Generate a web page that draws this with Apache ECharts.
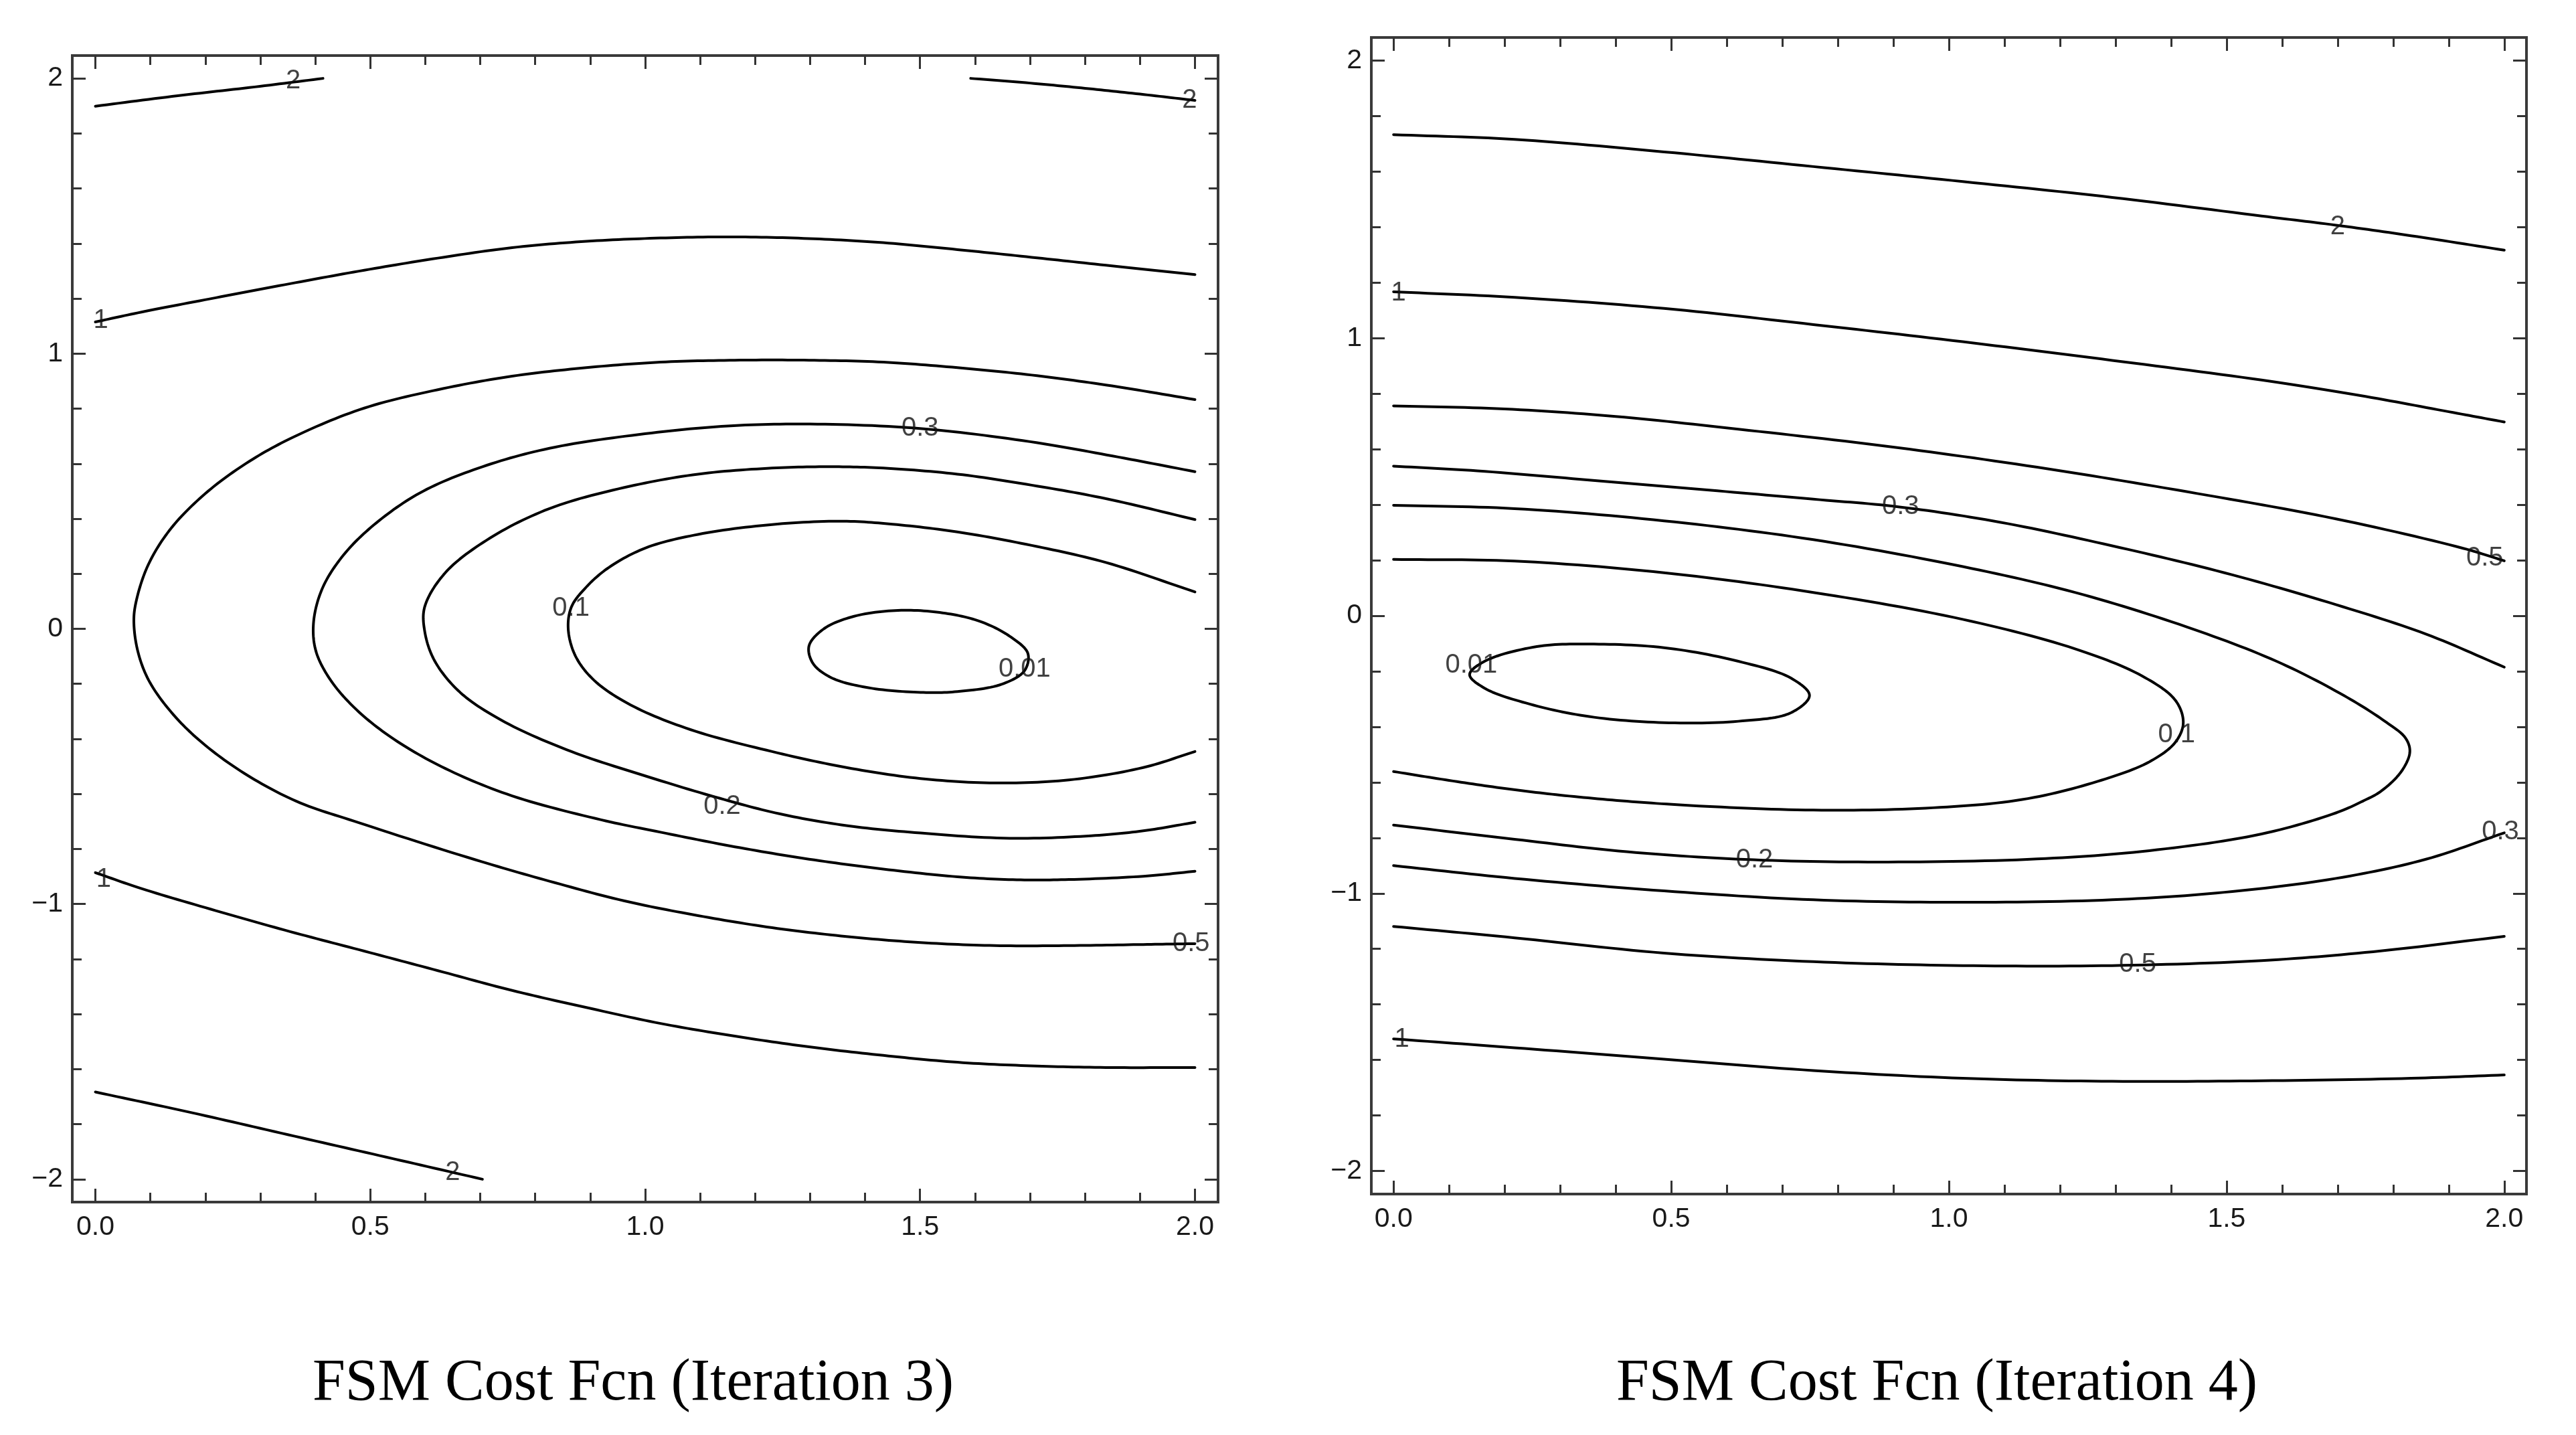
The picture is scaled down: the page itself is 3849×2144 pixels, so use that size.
<!DOCTYPE html>
<html>
<head>
<meta charset="utf-8">
<script src="https://cdn.jsdelivr.net/npm/echarts@6/dist/echarts.min.js"></script>
<style>
html,body{margin:0;padding:0;background:#fff;}
#chart{width:3849px;height:2144px;}
</style>
</head>
<body>
<div id="chart"></div>
<script>
// ---------- tick labels / tick positions ----------
const xMajorTicks = [0, 0.5, 1, 1.5, 2];
const xMinorTicks = [0.1, 0.2, 0.3, 0.4, 0.6, 0.7, 0.8, 0.9, 1.1, 1.2, 1.3, 1.4, 1.6, 1.7, 1.8, 1.9];
const yMajorTicks = [-2, -1, 0, 1, 2];
const yMinorTicks = [-1.8, -1.6, -1.4, -1.2, -0.8, -0.6, -0.4, -0.2, 0.2, 0.4, 0.6, 0.8, 1.2, 1.4, 1.6, 1.8];
const titles = ['FSM Cost Fcn (Iteration 3)', 'FSM Cost Fcn (Iteration 4)'];

// ---------- Iteration 3 contours (x, y) ----------
const it3_c2_topLeft = [[0,1.899],[0.15,1.937],[0.29,1.969],[0.414,2.0]];
const it3_c2_topRight = [[1.592,2.0],[1.7,1.983],[1.8,1.964],[1.9,1.943],[2.0,1.92]];
const it3_c1_upper = [[0,1.115],[0.084,1.151],[0.219,1.203],[0.354,1.254],[0.489,1.303],[0.623,1.347],[0.758,1.385],[0.893,1.408],[1.028,1.420],[1.163,1.424],[1.298,1.418],[1.433,1.403],[1.568,1.378],[1.703,1.350],[1.838,1.321],[2.0,1.287]];
const it3_c05 = [[2.0,0.833],[1.838,0.886],[1.703,0.922],[1.568,0.949],[1.433,0.969],[1.298,0.976],[1.163,0.976],[1.028,0.969],[0.893,0.949],[0.758,0.918],[0.623,0.869],[0.489,0.802],[0.37,0.706],[0.286,0.616],[0.205,0.500],[0.138,0.366],[0.096,0.232],[0.074,0.098],[0.070,0.027],[0.077,-0.080],[0.097,-0.187],[0.138,-0.303],[0.192,-0.410],[0.270,-0.524],[0.365,-0.626],[0.48,-0.705],[0.691,-0.839],[0.826,-0.917],[0.961,-0.988],[1.096,-1.042],[1.231,-1.086],[1.366,-1.118],[1.501,-1.140],[1.636,-1.151],[1.771,-1.151],[1.906,-1.147],[2.0,-1.144]];
const it3_c03 = [[2.0,0.571],[1.85,0.628],[1.7,0.68],[1.5,0.728],[1.3,0.744],[1.15,0.737],[0.988,0.706],[0.826,0.656],[0.704,0.589],[0.596,0.500],[0.516,0.393],[0.455,0.277],[0.414,0.152],[0.397,0.027],[0.401,-0.080],[0.428,-0.187],[0.475,-0.294],[0.543,-0.401],[0.637,-0.508],[0.758,-0.607],[0.920,-0.694],[1.028,-0.739],[1.163,-0.792],[1.298,-0.837],[1.433,-0.873],[1.568,-0.901],[1.676,-0.912],[1.771,-0.911],[1.906,-0.899],[2.0,-0.881]];
const it3_c02 = [[2.0,0.397],[1.838,0.473],[1.703,0.522],[1.568,0.562],[1.433,0.584],[1.339,0.589],[1.231,0.584],[1.096,0.562],[0.961,0.513],[0.826,0.437],[0.718,0.330],[0.637,0.205],[0.599,0.080],[0.599,-0.009],[0.617,-0.116],[0.664,-0.232],[0.745,-0.339],[0.866,-0.446],[1.001,-0.535],[1.136,-0.616],[1.244,-0.672],[1.366,-0.715],[1.501,-0.742],[1.663,-0.761],[1.811,-0.752],[1.906,-0.734],[2.0,-0.703]];
const it3_c01 = [[2.0,0.134],[1.838,0.241],[1.703,0.303],[1.568,0.352],[1.45,0.38],[1.36,0.391],[1.231,0.379],[1.096,0.343],[1.001,0.294],[0.934,0.223],[0.893,0.152],[0.866,0.080],[0.860,0.0],[0.873,-0.098],[0.907,-0.187],[0.974,-0.277],[1.082,-0.366],[1.231,-0.446],[1.366,-0.504],[1.501,-0.544],[1.636,-0.560],[1.771,-0.549],[1.906,-0.504],[2.0,-0.446]];
const it3_c001 = [[1.696,-0.089],[1.690,-0.152],[1.649,-0.201],[1.568,-0.228],[1.501,-0.231],[1.406,-0.214],[1.339,-0.178],[1.305,-0.125],[1.298,-0.062],[1.325,0.0],[1.379,0.045],[1.460,0.067],[1.541,0.058],[1.609,0.027],[1.663,-0.027],[1.696,-0.089]];
const it3_c1_lower = [[0,-0.886],[0.084,-0.944],[0.219,-1.024],[0.354,-1.100],[0.489,-1.171],[0.623,-1.242],[0.758,-1.314],[0.893,-1.376],[1.028,-1.434],[1.163,-1.480],[1.298,-1.519],[1.433,-1.550],[1.568,-1.575],[1.703,-1.588],[1.838,-1.594],[2.0,-1.594]];
const it3_c2_lower = [[0,-1.683],[0.175,-1.758],[0.35,-1.838],[0.53,-1.92],[0.704,-2.0]];
const it3_labels = [['2',0.36,1.99],['2',1.99,1.92],['1',0.01,1.12],['0.3',1.50,0.728],['0.1',0.865,0.075],['0.01',1.69,-0.148],['0.2',1.14,-0.645],['1',0.015,-0.91],['0.5',1.993,-1.143],['2',0.65,-1.975]];

// ---------- Iteration 4 contours (x, y) ----------
const it4_c2 = [[0,1.733],[0.218,1.716],[0.487,1.671],[0.756,1.618],[1.025,1.564],[1.294,1.507],[1.563,1.440],[1.697,1.407],[1.832,1.369],[2.0,1.317]];
const it4_c1_upper = [[0,1.167],[0.218,1.147],[0.487,1.107],[0.756,1.049],[1.025,0.987],[1.294,0.920],[1.563,0.849],[1.75,0.79],[1.9,0.735],[2.0,0.698]];
const it4_c05_upper = [[0,0.756],[0.2,0.745],[0.4,0.718],[0.621,0.672],[0.890,0.610],[1.159,0.535],[1.428,0.447],[1.697,0.349],[1.926,0.243],[2.0,0.198]];
const it4_c03_upper = [[0,0.539],[0.151,0.522],[0.352,0.489],[0.554,0.455],[0.756,0.42],[0.911,0.392],[1.092,0.337],[1.294,0.252],[1.496,0.155],[1.697,0.040],[1.859,-0.066],[2.0,-0.185]];
const it4_c02 = [[0,0.398],[0.218,0.386],[0.487,0.342],[0.756,0.274],[1.025,0.177],[1.227,0.084],[1.428,-0.040],[1.590,-0.164],[1.711,-0.287],[1.785,-0.380],[1.822,-0.440],[1.830,-0.490],[1.815,-0.560],[1.778,-0.632],[1.745,-0.668],[1.697,-0.71],[1.563,-0.786],[1.361,-0.846],[1.159,-0.876],[0.890,-0.887],[0.648,-0.879],[0.420,-0.850],[0.218,-0.805],[0,-0.754]];
const it4_c01 = [[0,0.203],[0.218,0.197],[0.487,0.155],[0.756,0.084],[1.025,-0.013],[1.227,-0.119],[1.348,-0.217],[1.408,-0.305],[1.422,-0.385],[1.408,-0.455],[1.361,-0.526],[1.267,-0.597],[1.132,-0.662],[0.958,-0.693],[0.756,-0.700],[0.55,-0.685],[0.42,-0.668],[0.3,-0.646],[0.2,-0.622],[0.1,-0.593],[0,-0.561]];
const it4_c001 = [[0.137,-0.212],[0.164,-0.164],[0.258,-0.111],[0.352,-0.102],[0.487,-0.115],[0.621,-0.164],[0.716,-0.225],[0.749,-0.287],[0.716,-0.349],[0.621,-0.380],[0.487,-0.385],[0.352,-0.363],[0.245,-0.318],[0.164,-0.261],[0.137,-0.212]];
const it4_c03_lower = [[2.0,-0.782],[1.859,-0.877],[1.697,-0.946],[1.496,-0.996],[1.294,-1.023],[1.025,-1.032],[0.756,-1.023],[0.487,-0.991],[0.218,-0.946],[0,-0.900]];
const it4_c05_lower = [[0,-1.119],[0.218,-1.160],[0.487,-1.215],[0.756,-1.246],[1.025,-1.260],[1.294,-1.260],[1.563,-1.242],[1.764,-1.210],[2.0,-1.155]];
const it4_c1_lower = [[0,-1.524],[0.218,-1.556],[0.487,-1.597],[0.756,-1.638],[1.025,-1.666],[1.294,-1.677],[1.563,-1.675],[1.832,-1.666],[2.0,-1.654]];
const it4_labels = [['2',1.70,1.40],['1',0.009,1.163],['0.3',0.913,0.394],['0.5',1.965,0.208],['0.01',0.14,-0.178],['0.1',1.41,-0.428],['0.3',1.993,-0.779],['0.2',0.65,-0.881],['0.5',1.34,-1.257],['1',0.015,-1.525]];

// ---------- helpers ----------
const TICK_FONT = 'Liberation Sans, Arial, sans-serif';
const AX_COLOR = '#333';

function makeX(gridIndex, min, max, position, values, len, labels) {
  return {
    type: 'value', gridIndex, min, max, position,
    axisLine: { show: false, onZero: false },
    splitLine: { show: false },
    axisTick: { show: true, inside: true, length: len, customValues: values,
                lineStyle: { color: AX_COLOR, width: 3 } },
    axisLabel: labels ? { show: true, customValues: values, margin: 17,
                formatter: v => Number(v).toFixed(1),
                fontSize: 41, color: '#1a1a1a', fontFamily: TICK_FONT } : { show: false }
  };
}
function makeY(gridIndex, min, max, position, values, len, labels) {
  return {
    type: 'value', gridIndex, min, max, position,
    axisLine: { show: false, onZero: false },
    splitLine: { show: false },
    axisTick: { show: true, inside: true, length: len, customValues: values,
                lineStyle: { color: AX_COLOR, width: 3 } },
    axisLabel: labels ? { show: true, customValues: values, margin: 14,
                formatter: v => (v < 0 ? '\u2212' + Math.abs(v) : String(v)),
                fontSize: 41, color: '#1a1a1a', fontFamily: TICK_FONT } : { show: false }
  };
}

// Centripetal Catmull-Rom through pixel points (drawing only).
function catmullRom(P, n, closed) {
  const m = P.length;
  const k = closed ? m - 1 : m;
  const get = i => {
    if (closed) return P[((i % k) + k) % k];
    if (i < 0) return [2 * P[0][0] - P[1][0], 2 * P[0][1] - P[1][1]];
    if (i >= m) return [2 * P[m - 1][0] - P[m - 2][0], 2 * P[m - 1][1] - P[m - 2][1]];
    return P[i];
  };
  const d = (a, b) => Math.max(Math.sqrt(Math.hypot(b[0] - a[0], b[1] - a[1])), 1e-6);
  const out = [];
  for (let i = 0; i < m - 1; i++) {
    const p0 = get(i - 1), p1 = get(i), p2 = get(i + 1), p3 = get(i + 2);
    const t01 = d(p0, p1), t12 = d(p1, p2), t23 = d(p2, p3);
    const m1 = [0, 1].map(c => (p2[c] - p1[c]) + t12 * ((p1[c] - p0[c]) / t01 - (p2[c] - p0[c]) / (t01 + t12)));
    const m2 = [0, 1].map(c => (p2[c] - p1[c]) + t12 * ((p3[c] - p2[c]) / t23 - (p3[c] - p1[c]) / (t12 + t23)));
    for (let j = 0; j < n; j++) {
      const t = j / n, t2 = t * t, t3 = t2 * t;
      const h00 = 2 * t3 - 3 * t2 + 1, h10 = t3 - 2 * t2 + t, h01 = -2 * t3 + 3 * t2, h11 = t3 - t2;
      out.push([0, 1].map(c => h00 * p1[c] + h10 * m1[c] + h01 * p2[c] + h11 * m2[c]));
    }
  }
  out.push(P[m - 1]);
  return out;
}

const ranges = [
  { x: [-0.042, 2.042], y: [-2.083, 2.083] },
  { x: [-0.04, 2.04], y: [-2.083, 2.083] }
];
const xAxes = [], yAxes = [];
ranges.forEach((r, g) => {
  xAxes.push(makeX(g, r.x[0], r.x[1], 'bottom', xMajorTicks, 20, true));
  xAxes.push(makeX(g, r.x[0], r.x[1], 'bottom', xMinorTicks, 14, false));
  xAxes.push(makeX(g, r.x[0], r.x[1], 'top', xMajorTicks, 20, false));
  xAxes.push(makeX(g, r.x[0], r.x[1], 'top', xMinorTicks, 14, false));
  yAxes.push(makeY(g, r.y[0], r.y[1], 'left', yMajorTicks, 20, true));
  yAxes.push(makeY(g, r.y[0], r.y[1], 'left', yMinorTicks, 14, false));
  yAxes.push(makeY(g, r.y[0], r.y[1], 'right', yMajorTicks, 20, false));
  yAxes.push(makeY(g, r.y[0], r.y[1], 'right', yMinorTicks, 14, false));
});

function contour(data, g) {
  const closed = data[0][0] === data[data.length - 1][0] && data[0][1] === data[data.length - 1][1];
  return {
    type: 'custom', xAxisIndex: g * 4, yAxisIndex: g * 4, data,
    encode: { x: 0, y: 1 }, silent: true, z: 3,
    renderItem: function (params, api) {
      if (params.dataIndex !== 0) return null;
      const pix = data.map(p => api.coord(p));
      return {
        type: 'polyline',
        shape: { points: catmullRom(pix, 14, closed) },
        style: { stroke: '#000', lineWidth: 4, fill: null, lineJoin: 'round', lineCap: 'round' }
      };
    }
  };
}
function labelSeries(labels, g) {
  return {
    type: 'scatter', xAxisIndex: g * 4, yAxisIndex: g * 4,
    data: labels.map(l => ({ name: l[0], value: [l[1], l[2]] })),
    symbolSize: 1, itemStyle: { color: 'rgba(0,0,0,0)' }, silent: true, z: 5,
    label: { show: true, position: 'inside', formatter: '{b}', fontSize: 40,
             color: '#111', fontFamily: TICK_FONT }
  };
}

const series = [];
[it3_c2_topLeft, it3_c2_topRight, it3_c1_upper, it3_c05, it3_c03, it3_c02, it3_c01, it3_c001, it3_c1_lower, it3_c2_lower]
  .forEach(d => series.push(contour(d, 0)));
[it4_c2, it4_c1_upper, it4_c05_upper, it4_c03_upper, it4_c02, it4_c01, it4_c001, it4_c03_lower, it4_c05_lower, it4_c1_lower]
  .forEach(d => series.push(contour(d, 1)));
series.push(labelSeries(it3_labels, 0));
series.push(labelSeries(it4_labels, 1));

const titleStyle = { fontFamily: 'Liberation Serif, serif', fontSize: 88, fontWeight: 'normal', color: '#000' };
const option = {
  backgroundColor: '#fff',
  animation: false,
  title: [
    { text: titles[0], left: 946, top: 2024, textAlign: 'center', padding: 0, textStyle: titleStyle },
    { text: titles[1], left: 2894, top: 2024, textAlign: 'center', padding: 0, textStyle: titleStyle }
  ],
  grid: [
    { left: 108, top: 83, width: 1712, height: 1713, show: true, borderColor: '#3a3a3a', borderWidth: 4, backgroundColor: 'transparent' },
    { left: 2049, top: 56, width: 1726, height: 1728, show: true, borderColor: '#3a3a3a', borderWidth: 4, backgroundColor: 'transparent' }
  ],
  xAxis: xAxes,
  yAxis: yAxes,
  series
};

const chart = echarts.init(document.getElementById('chart'), null, { renderer: 'canvas' });
chart.setOption(option);
</script>
</body>
</html>
